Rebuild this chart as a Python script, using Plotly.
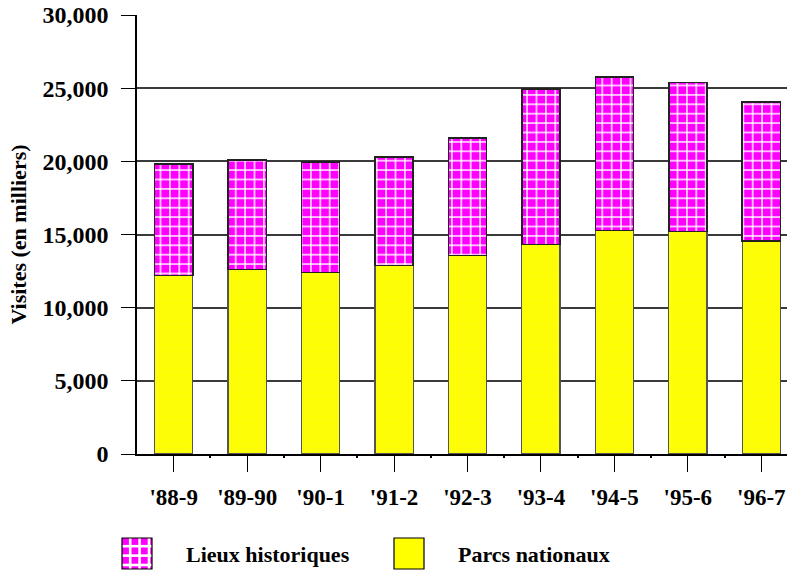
import plotly.graph_objects as go

# Visites annuelles (en milliers) par exercice
saisons = ["'88-9", "'89-90", "'90-1", "'91-2", "'92-3", "'93-4", "'94-5", "'95-6", "'96-7"]
parcs_nationaux = [12210, 12620, 12420, 12870, 13580, 14330, 15260, 15190, 14540]
lieux_historiques = [7610, 7460, 7540, 7410, 8000, 10620, 10490, 10210, 9510]
y_ticks = [0, 5000, 10000, 15000, 20000, 25000, 30000]

MAGENTA = "#ff00ff"
JAUNE = "#ffff00"

positions = list(range(len(saisons)))
SERIF = "'Liberation Serif', 'Times New Roman', Times, serif"
TICK_FONT = dict(family=SERIF, size=24, color="black", weight="bold")

W, H = 787, 571
M_L, M_R, M_T, M_B = 137, 0, 15, 117
PLOT_W = W - M_L - M_R
PLOT_H = H - M_T - M_B


def px_x(px):
    """Horizontal pixel position -> paper coordinate."""
    return (px - M_L) / PLOT_W


def px_y(py):
    """Vertical pixel position (from top) -> paper coordinate."""
    return (H - M_B - py) / PLOT_H


fig = go.Figure()
fig.add_trace(go.Bar(
    x=positions, y=parcs_nationaux, name="Parcs nationaux",
    width=0.52,
    marker=dict(
        color=JAUNE,
        line=dict(color="#555555", width=1.2),
        pattern=dict(shape=".", fgcolor="#f2f230", bgcolor=JAUNE, size=3, solidity=0.3),
    ),
))
fig.add_trace(go.Bar(
    x=positions, y=lieux_historiques, name="Lieux historiques",
    width=0.52,
    marker=dict(
        color=MAGENTA,
        line=dict(color="#222222", width=1.5),
        pattern=dict(shape="+", fgcolor="#ffffff", bgcolor=MAGENTA, size=9.4, solidity=0.28,
                     fillmode="replace"),
    ),
))

# Legend drawn as large swatches below the plot
shapes = []
annotations = []


def swatch(x0, x1, y0, y1, fill, grid):
    shapes.append(dict(type="rect", xref="paper", yref="paper",
                       x0=px_x(x0), x1=px_x(x1), y0=px_y(y1), y1=px_y(y0),
                       fillcolor=fill, line=dict(width=0), layer="above"))
    if grid:
        step = 9.4
        off = 8.2
        while off < (x1 - x0):
            shapes.append(dict(type="line", xref="paper", yref="paper",
                               x0=px_x(x0 + off), x1=px_x(x0 + off), y0=px_y(y1), y1=px_y(y0),
                               line=dict(color="white", width=2.6), layer="above"))
            off += step
        off = 8.2
        while off < (y1 - y0):
            shapes.append(dict(type="line", xref="paper", yref="paper",
                               x0=px_x(x0), x1=px_x(x1), y0=px_y(y0 + off), y1=px_y(y0 + off),
                               line=dict(color="white", width=2.6), layer="above"))
            off += step
    shapes.append(dict(type="rect", xref="paper", yref="paper",
                       x0=px_x(x0), x1=px_x(x1), y0=px_y(y1), y1=px_y(y0),
                       fillcolor="rgba(0,0,0,0)", line=dict(color="black", width=1.2),
                       layer="above"))


legende = [("Lieux historiques", MAGENTA, True, 122), ("Parcs nationaux", JAUNE, False, 394)]
for texte, couleur, grille, x_gauche in legende:
    swatch(x_gauche, x_gauche + 30, 538, 569, couleur, grille)
    annotations.append(dict(text=texte, xref="paper", yref="paper",
                            x=px_x(x_gauche + 62), y=px_y(554), xanchor="left", yanchor="middle",
                            showarrow=False,
                            font=dict(family=SERIF, size=22, color="black", weight="bold")))

fig.update_layout(
    width=W, height=H,
    margin=dict(l=M_L, r=M_R, t=M_T, b=M_B),
    barmode="stack",
    paper_bgcolor="white", plot_bgcolor="white",
    font=TICK_FONT,
    showlegend=False,
    shapes=shapes,
    annotations=annotations,
)

fig.update_xaxes(
    range=[-0.5, 8.35],
    tickvals=positions, ticktext=saisons,
    ticks="outside", ticklen=16, tickcolor="black", tickwidth=1,
    showline=True, linecolor="black", linewidth=1.5,
    showgrid=False, zeroline=False,
    minor=dict(tickvals=[p + 0.5 for p in positions[:-1]], ticks="outside",
               ticklen=2, tickcolor="black", tickwidth=2, showgrid=False),
    tickfont=dict(family=SERIF, size=23, color="black", weight="bold"),
    ticklabelstandoff=6,
)
fig.update_yaxes(
    range=[0, 30000],
    tickvals=y_ticks, tickformat=",d",
    ticks="outside", ticklen=14, tickcolor="black", tickwidth=1,
    showline=True, linecolor="black", linewidth=1.5,
    showgrid=True, gridcolor="#3a3a3a", gridwidth=1.5,
    zeroline=False,
    tickfont=TICK_FONT,
    ticklabelstandoff=8,
    title=dict(text="Visites (en milliers)",
               font=dict(family=SERIF, size=22, color="black", weight="bold"),
               standoff=10),
)

fig.write_html("out.html")
